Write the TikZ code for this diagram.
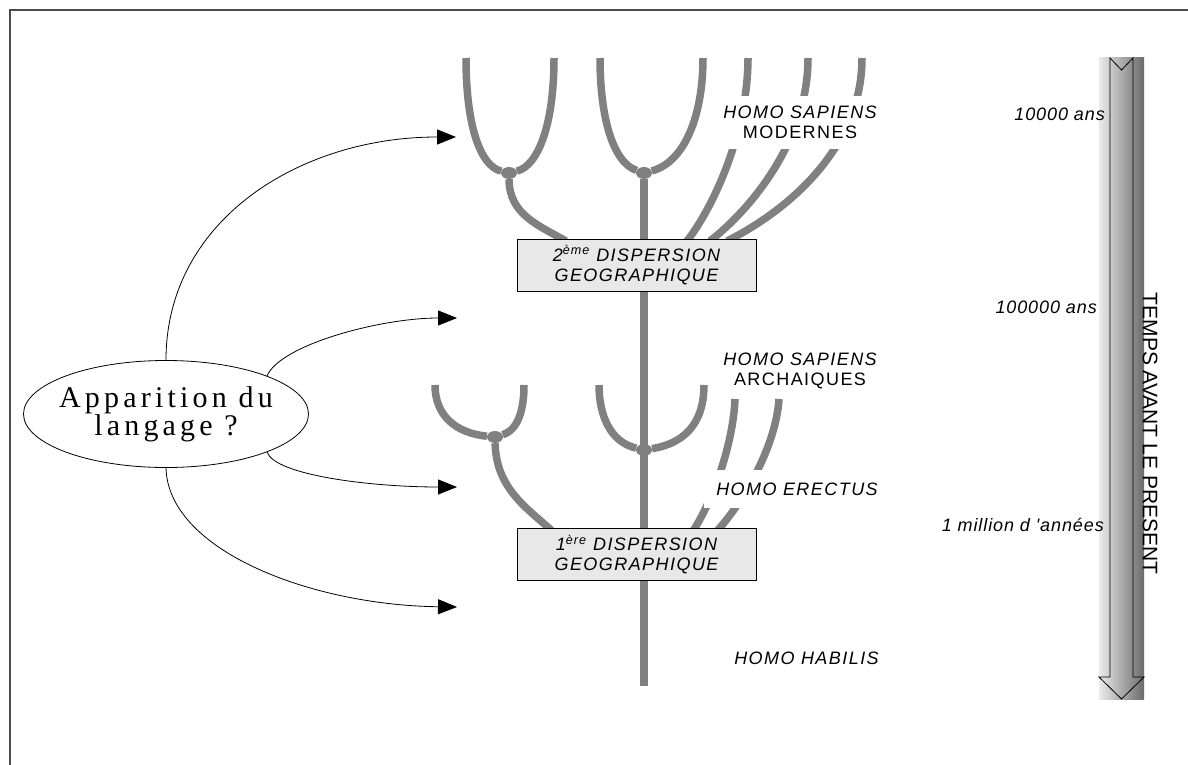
\documentclass[tikz,border=0pt]{standalone}
\usepackage{fontspec}
\setmainfont{Liberation Sans}
\newfontfamily\langface[LetterSpace=14]{Liberation Serif}
\newfontfamily\taxonface[LetterSpace=8]{Liberation Sans}
\newfontfamily\dateface[LetterSpace=5]{Liberation Sans}
\usetikzlibrary{arrows.meta,shapes.geometric}

\definecolor{treegray}{gray}{0.5}
\definecolor{boxgray}{gray}{0.91}
\definecolor{framegray}{gray}{0.3}

\begin{document}
\begin{tikzpicture}[x=1pt,y=-1pt,
    branch/.style={treegray,line width=7.5pt},
    knot/.style={ellipse,fill=treegray,minimum width=16pt,minimum height=12pt,inner sep=0pt},
    dispersal/.style={draw,line width=0.8pt,fill=boxgray,minimum width=239pt,minimum height=52pt,
        inner sep=0pt,align=center,font=\taxonface\fontsize{18}{20}\selectfont\itshape},
    taxon/.style={fill=white,inner xsep=12pt,inner ysep=10pt,align=center,
        font=\taxonface\fontsize{18}{20}\selectfont},
    period/.style={anchor=east,inner sep=0pt,font=\dateface\fontsize{18}{20}\selectfont\itshape},
    langarrow/.style={line width=0.8pt,-{Triangle[length=19pt,width=15pt]}}]
    \useasboundingbox (0,0) rectangle (1188,765);
    \draw[framegray,line width=1.5pt] (10,765) -- (10,10) -- (1188,10);

    % time axis
    \shade[left color=black!8,right color=black!58] (1099,58) rectangle (1144,699);
    \draw[line width=0.8pt] (1110,58) -- (1121.5,70) -- (1133,58) -- (1133,677) -- (1144,677)
        -- (1121.5,699) -- (1099,677) -- (1110,677) -- cycle;
    \node[rotate=-90,inner sep=0pt,font=\fontsize{21}{21}\selectfont] (axis) at (1150,433.5) {TEMPS AVANT LE PRESENT};
    \node[period] (t10k) at (1105,114.5) {10000 ans};
    \node[period] (t100k) at (1097,307.5) {100000 ans};
    \node[period] (t1m) at (1104,524.5) {1 million d 'années};

    % knots of the tree
    \node[knot] (ku) at (509,173) {};
    \node[knot] (kc) at (644,173) {};
    \node[knot] (kl) at (495,437) {};
    \node[knot] (km) at (644,450) {};

    % tips and feet of the branches
    \coordinate (u1) at (466,58);  \coordinate (u2) at (554,58);
    \coordinate (u3) at (600,58);  \coordinate (u4) at (703,58);
    \coordinate (u5) at (748,58);  \coordinate (u6) at (808,58);
    \coordinate (u7) at (862,58);
    \coordinate (s1) at (566,241); \coordinate (s5) at (687,241);
    \coordinate (s6) at (710,241); \coordinate (s7) at (727,241);
    \coordinate (l1) at (435,385); \coordinate (l2) at (524,385);
    \coordinate (l3) at (599,385); \coordinate (l4) at (704,385);
    \coordinate (l5) at (735,399); \coordinate (l6) at (779,399);
    \coordinate (r1) at (552,531); \coordinate (r5) at (693,531);
    \coordinate (r6) at (717,531);
    \coordinate (root) at (644,686);

    \draw[branch] (kc) -- (root);
    % upper fan
    \draw[branch] (ku) .. controls (480,166) and (466,125) .. (u1);
    \draw[branch] (ku) .. controls (538,166) and (554,125) .. (u2);
    \draw[branch] (kc) .. controls (612,162) and (600,115) .. (u3);
    \draw[branch] (kc) .. controls (685,162) and (703,115) .. (u4);
    \draw[branch] (ku) .. controls (509,215) and (540,226) .. (s1);
    \draw[branch] (s5) .. controls (715,205) and (748,130) .. (u5);
    \draw[branch] (s6) .. controls (752,208) and (808,140) .. (u6);
    \draw[branch] (s7) .. controls (785,212) and (862,150) .. (u7);
    % lower fan
    \draw[branch] (kl) .. controls (455,433) and (435,415) .. (l1);
    \draw[branch] (kl) .. controls (518,430) and (524,410) .. (l2);
    \draw[branch] (km) .. controls (610,442) and (599,415) .. (l3);
    \draw[branch] (km) .. controls (692,442) and (704,415) .. (l4);
    \draw[branch] (kl) .. controls (496,490) and (530,510) .. (r1);
    \draw[branch] (r5) .. controls (713,500) and (733,445) .. (l5);
    \draw[branch] (r6) .. controls (745,500) and (776,445) .. (l6);

    \node[dispersal] (d2) at (636.5,265) {2\textsuperscript{ème} DISPERSION\\GEOGRAPHIQUE};
    \node[dispersal] (d1) at (636.5,554.5) {1\textsuperscript{ère} DISPERSION\\GEOGRAPHIQUE};

    \node[taxon] (modern) at (800,122.5) {{\itshape HOMO SAPIENS}\\MODERNES};
    \node[taxon] (archaic) at (800,370.5) {{\itshape HOMO SAPIENS}\\ARCHAIQUES};
    \node[taxon,inner ysep=13pt,font=\taxonface\fontsize{18}{20}\selectfont\itshape] (erectus) at (797,489) {HOMO ERECTUS};
    \node[taxon,font=\taxonface\fontsize{18}{20}\selectfont\itshape] (habilis) at (806.5,658.5) {HOMO HABILIS};

    % language and its possible dates
    \node[draw,ellipse,line width=0.8pt,minimum width=285pt,minimum height=107pt,inner xsep=-10pt,inner ysep=0pt,
        align=center,font=\langface\fontsize{30}{28}\selectfont] (lang) at (166,414) {Apparition du\\langage ?};
    \coordinate (a1) at (456,137);
    \coordinate (a2) at (457,318);
    \coordinate (a3) at (457,487);
    \coordinate (a4) at (457,607);
    \draw[langarrow] (lang.north) .. controls (166,220) and (300,137) .. (a1);
    \draw[langarrow] (lang.north east) .. controls (280,345) and (380,318) .. (a2);
    \draw[langarrow] (lang.south east) .. controls (275,475) and (370,487) .. (a3);
    \draw[langarrow] (lang.south) .. controls (168,550) and (310,605) .. (a4);
\end{tikzpicture}
\end{document}
